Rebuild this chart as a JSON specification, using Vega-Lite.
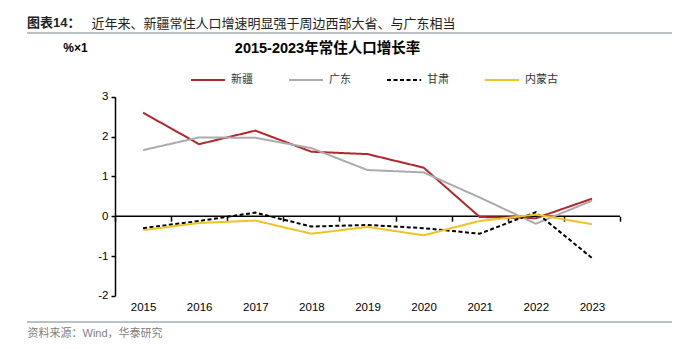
{
  "$schema": "https://vega.github.io/schema/vega-lite/v6.json",
  "width": 645,
  "height": 289,
  "autosize": {"type": "none"},
  "padding": {"left": 27, "top": 33, "right": 28, "bottom": 28},
  "background": "white",
  "config": {
    "font": "Liberation Sans, Noto Sans CJK SC",
    "view": {"stroke": "#A7ADB4", "strokeWidth": 1.6, "strokeDash": [645, 289, 645, 289]}
  },
  "title": {
    "text": "图表14：",
    "anchor": "start",
    "frame": "group",
    "orient": "top",
    "fontSize": 13,
    "fontWeight": "bold",
    "color": "#222222",
    "font": "Liberation Sans, Noto Sans CJK SC",
    "offset": -13
  },
  "datasets": {
    "series": [
      {"year": "2015", "region": "新疆", "value": 2.60},
      {"year": "2016", "region": "新疆", "value": 1.81},
      {"year": "2017", "region": "新疆", "value": 2.15},
      {"year": "2018", "region": "新疆", "value": 1.62},
      {"year": "2019", "region": "新疆", "value": 1.56},
      {"year": "2020", "region": "新疆", "value": 1.22},
      {"year": "2021", "region": "新疆", "value": -0.02},
      {"year": "2022", "region": "新疆", "value": -0.05},
      {"year": "2023", "region": "新疆", "value": 0.44},
      {"year": "2015", "region": "广东", "value": 1.66},
      {"year": "2016", "region": "广东", "value": 1.98},
      {"year": "2017", "region": "广东", "value": 1.97},
      {"year": "2018", "region": "广东", "value": 1.71},
      {"year": "2019", "region": "广东", "value": 1.16},
      {"year": "2020", "region": "广东", "value": 1.10},
      {"year": "2021", "region": "广东", "value": 0.47},
      {"year": "2022", "region": "广东", "value": -0.19},
      {"year": "2023", "region": "广东", "value": 0.39},
      {"year": "2015", "region": "甘肃", "value": -0.30},
      {"year": "2016", "region": "甘肃", "value": -0.12},
      {"year": "2017", "region": "甘肃", "value": 0.09},
      {"year": "2018", "region": "甘肃", "value": -0.26},
      {"year": "2019", "region": "甘肃", "value": -0.22},
      {"year": "2020", "region": "甘肃", "value": -0.30},
      {"year": "2021", "region": "甘肃", "value": -0.44},
      {"year": "2022", "region": "甘肃", "value": 0.10},
      {"year": "2023", "region": "甘肃", "value": -1.05},
      {"year": "2015", "region": "内蒙古", "value": -0.35},
      {"year": "2016", "region": "内蒙古", "value": -0.17},
      {"year": "2017", "region": "内蒙古", "value": -0.11},
      {"year": "2018", "region": "内蒙古", "value": -0.44},
      {"year": "2019", "region": "内蒙古", "value": -0.27},
      {"year": "2020", "region": "内蒙古", "value": -0.48},
      {"year": "2021", "region": "内蒙古", "value": -0.12},
      {"year": "2022", "region": "内蒙古", "value": 0.04},
      {"year": "2023", "region": "内蒙古", "value": -0.20}
    ],
    "one": [{}]
  },
  "resolve": {"axis": {"x": "independent", "y": "independent"}},
  "layer": [
    {
      "data": {"name": "one"},
      "mark": {"type": "rule", "color": "#000000", "strokeWidth": 1.5},
      "encoding": {
        "x": {
          "datum": "2015", "type": "nominal", "bandPosition": 0,
          "scale": {"type": "band", "domain": ["2015","2016","2017","2018","2019","2020","2021","2022","2023"], "paddingInner": 0, "paddingOuter": 0, "range": [88, 593]},
          "axis": {
            "orient": "top", "domain": false, "ticks": false, "labels": false, "grid": false,
            "title": "2015-2023年常住人口增长率",
            "titleX": 300, "titleY": 15, "titleAlign": "center", "titleBaseline": "middle", "titleAngle": 0,
            "titleFontSize": 14.5, "titleFontWeight": "bold", "titleColor": "#000000",
            "titleFont": "Liberation Sans, Noto Sans CJK SC"
          }
        },
        "x2": {"datum": "2023", "bandPosition": 1},
        "y": {
          "datum": 0, "type": "quantitative",
          "scale": {"domain": [-2, 3], "range": [262.8, 63.8], "nice": false, "zero": false},
          "axis": {
            "orient": "right", "domain": false, "ticks": false, "labels": false, "grid": false,
            "title": "近年来、新疆常住人口增速明显强于周边西部大省、与广东相当",
            "titleX": -581, "titleY": -9.7, "titleAlign": "left", "titleBaseline": "middle", "titleAngle": 0,
            "titleFontSize": 13, "titleFontWeight": "normal", "titleColor": "#222222",
            "titleFont": "Noto Sans CJK SC"
          }
        }
      }
    },
    {
      "data": {"name": "series"},
      "mark": {"type": "line", "strokeWidth": 2},
      "encoding": {
        "x": {
          "field": "year", "type": "nominal",
          "axis": {
            "orient": "bottom", "offset": -105.8, "domain": false, "grid": false,
            "ticks": true, "tickBand": "extent", "tickSize": 5, "tickColor": "#000000", "tickWidth": 1.5,
            "labelAngle": 0, "labelPadding": 80, "labelFontSize": 11.5, "labelColor": "#000000",
            "title": "资料来源：Wind，华泰研究",
            "titleX": 0, "titleY": 117, "titleAlign": "left", "titleBaseline": "middle", "titleAngle": 0,
            "titleFontSize": 11, "titleFontWeight": "normal", "titleColor": "#808080",
            "titleFont": "Liberation Sans, Noto Sans CJK SC"
          }
        },
        "y": {
          "field": "value", "type": "quantitative",
          "axis": {
            "orient": "left", "offset": -88, "grid": false,
            "domain": true, "domainColor": "#000000", "domainWidth": 1.5,
            "values": [-2, -1, 0, 1, 2, 3], "labelExpr": "datum.value + ''",
            "tickSize": 4, "tickColor": "#000000", "tickWidth": 1.5,
            "labelPadding": 3, "labelFontSize": 11.5, "labelColor": "#000000",
            "title": "%×1",
            "titleX": -40, "titleY": 14, "titleAlign": "center", "titleBaseline": "middle", "titleAngle": 0,
            "titleFontSize": 12, "titleFontWeight": "bold", "titleColor": "#000000"
          }
        },
        "color": {
          "field": "region", "type": "nominal",
          "scale": {"domain": ["新疆", "广东", "甘肃", "内蒙古"], "range": ["#B3262C", "#ABABAB", "#000000", "#EFC226"]},
          "legend": {
            "title": null, "orient": "none", "direction": "horizontal",
            "legendX": 163, "legendY": 29,
            "symbolType": "stroke", "symbolSize": 1156, "symbolStrokeWidth": 2,
            "labelFontSize": 11, "labelColor": "#333333", "labelOffset": 5,
            "columnPadding": 32, "labelFont": "Noto Sans CJK SC"
          }
        },
        "strokeDash": {
          "field": "region", "type": "nominal",
          "scale": {"domain": ["新疆", "广东", "甘肃", "内蒙古"], "range": [[1, 0], [1, 0], [4, 2.5], [1, 0]]},
          "legend": {
            "title": null, "orient": "none", "direction": "horizontal",
            "legendX": 163, "legendY": 29,
            "symbolType": "stroke", "symbolSize": 1156, "symbolStrokeWidth": 2,
            "labelFontSize": 11, "labelColor": "#333333", "labelOffset": 5,
            "columnPadding": 32, "labelFont": "Noto Sans CJK SC"
          }
        }
      }
    }
  ]
}
